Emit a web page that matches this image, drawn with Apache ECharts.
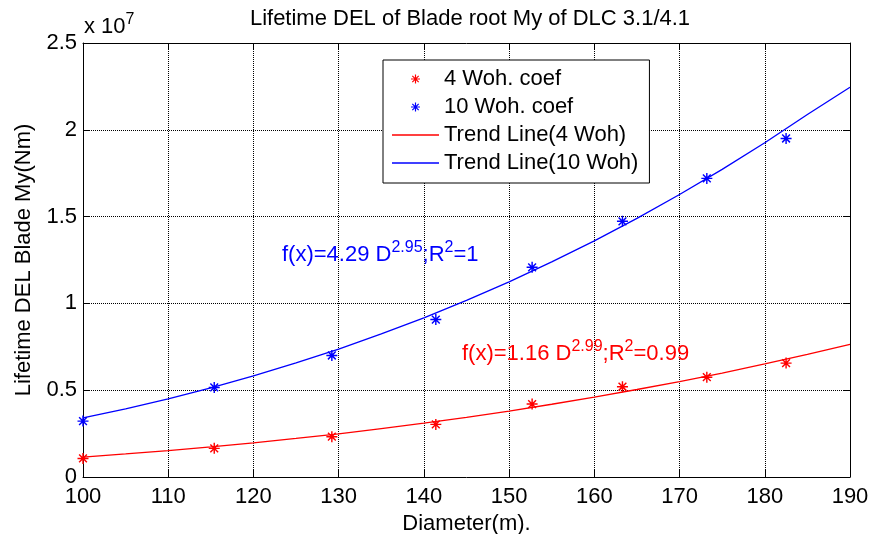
<!DOCTYPE html>
<html>
<head>
<meta charset="utf-8">
<script src="https://cdn.jsdelivr.net/npm/echarts@6/dist/echarts.min.js"></script>
<style>html,body{margin:0;padding:0;background:#fff}#c{width:888px;height:534px}</style>
</head>
<body>
<div id="c"></div>
<script>
// Data (values in units of 1e7 Nm)
var diameters = [100, 115.4, 129.2, 141.4, 152.7, 163.3, 173.2, 182.5];
var woh4 = [0.107, 0.165, 0.232, 0.303, 0.42, 0.52, 0.575, 0.656];
var woh10 = [0.322, 0.516, 0.70, 0.907, 1.208, 1.473, 1.72, 1.95];
var trendX = [100,105,110,115,120,125,130,135,140,145,150,155,160,165,170,175,180,185,190];
var trend4 = [0.115,0.133,0.152,0.174,0.197,0.222,0.249,0.279,0.310,0.344,0.380,0.419,0.460,0.504,0.550,0.599,0.651,0.706,0.764];
var trend10 = [0.340,0.393,0.450,0.513,0.582,0.657,0.737,0.824,0.917,1.017,1.124,1.239,1.360,1.490,1.627,1.772,1.925,2.088,2.245];
var seriesNames = ['4 Woh. coef', '10 Woh. coef', 'Trend Line(4 Woh)', 'Trend Line(10 Woh)'];

function pairs(xs, ys) { return xs.map(function (x, i) { return [x, ys[i]]; }); }

var FONT = '"Liberation Sans", Arial, sans-serif';
var ast = 'path://M4.35 0L5.65 0L5.65 10L4.35 10Z M0 4.35L10 4.35L10 5.65L0 5.65Z M1.0 1.92L1.92 1.0L9.0 8.08L8.08 9.0Z M8.08 1.0L9.0 1.92L1.92 9.0L1.0 8.08Z';
var lineIcon = 'path://M0 0L47 0L47 1.3L0 1.3Z';

var chart = echarts.init(document.getElementById('c'));
var axisCommon = {
  type: 'value',
  axisLine: { show: true, onZero: false, lineStyle: { color: '#000', width: 1 } },
  axisTick: { show: true, inside: true, length: 7, lineStyle: { color: '#000' } }
};
chart.setOption({
  animation: false,
  backgroundColor: '#fff',
  textStyle: { fontFamily: FONT },
  title: {
    text: 'Lifetime DEL of Blade root My of DLC 3.1/4.1',
    left: 465, top: 3, textAlign: 'center',
    textStyle: { fontFamily: FONT, fontSize: 22, fontWeight: 'normal', color: '#000' }
  },
  grid: { left: 83, right: 38, top: 43, bottom: 57, outerBoundsMode: 'none', containLabel: false },
  legend: {
    orient: 'vertical', left: 383, top: 60,
    padding: [8, 11, 9, 9], itemGap: 6, itemWidth: 47, itemHeight: 9,
    backgroundColor: '#fff', borderColor: '#000', borderWidth: 1,
    selectedMode: false,
    textStyle: { fontFamily: FONT, fontSize: 22, color: '#000', padding: [0, 0, 0, 0] },
    data: [
      { name: seriesNames[0], icon: ast },
      { name: seriesNames[1], icon: ast },
      { name: seriesNames[2], icon: lineIcon },
      { name: seriesNames[3], icon: lineIcon }
    ]
  },
  xAxis: [
    Object.assign({}, axisCommon, {
      position: 'bottom', min: 100, max: 190, interval: 10,
      name: 'Diameter(m).', nameLocation: 'middle', nameGap: 33,
      nameTextStyle: { fontFamily: FONT, fontSize: 22, color: '#000' },
      axisLabel: { fontFamily: FONT, fontSize: 22, color: '#000', margin: 9 },
      splitLine: { show: true, lineStyle: { color: '#000', type: [1, 1], width: 1 } }
    }),
    Object.assign({}, axisCommon, {
      position: 'top', min: 100, max: 190, interval: 10,
      axisLabel: { show: false }, splitLine: { show: false }
    })
  ],
  yAxis: [
    Object.assign({}, axisCommon, {
      position: 'left', min: 0, max: 2.5, interval: 0.5,
      name: 'Lifetime DEL Blade My(Nm)', nameLocation: 'middle', nameGap: 48,
      nameTextStyle: { fontFamily: FONT, fontSize: 22, color: '#000' },
      axisLabel: { fontFamily: FONT, fontSize: 22, color: '#000', margin: 6 },
      splitLine: { show: true, lineStyle: { color: '#000', type: [1, 1], width: 1 } }
    }),
    Object.assign({}, axisCommon, {
      position: 'right', min: 0, max: 2.5, interval: 0.5,
      axisLabel: { show: false }, splitLine: { show: false }
    })
  ],
  series: [
    { name: seriesNames[2], type: 'line', data: pairs(trendX, trend4), showSymbol: false, symbol: 'none',
      lineStyle: { color: '#ff0000', width: 1.3 }, itemStyle: { color: '#ff0000' }, z: 2 },
    { name: seriesNames[3], type: 'line', data: pairs(trendX, trend10), showSymbol: false, symbol: 'none',
      lineStyle: { color: '#0000ff', width: 1.3 }, itemStyle: { color: '#0000ff' }, z: 2 },
    { name: seriesNames[0], type: 'scatter', data: pairs(diameters, woh4), symbol: ast, symbolSize: 11,
      itemStyle: { color: '#ff0000', opacity: 1 }, z: 3 },
    { name: seriesNames[1], type: 'scatter', data: pairs(diameters, woh10), symbol: ast, symbolSize: 11,
      itemStyle: { color: '#0000ff', opacity: 1 }, z: 3 }
  ],
  graphic: [
    { type: 'text', left: 84, top: 12, z: 10,
      style: { text: 'x 10{s|7}', fill: '#000', font: '22px ' + FONT, lineHeight: 30,
        rich: { s: { fontSize: 16, fontFamily: FONT, lineHeight: 15, verticalAlign: 'top', fill: '#000' } } } },
    { type: 'text', left: 282, top: 240, z: 10,
      style: { text: 'f(x)=4.29 D{s|2.95};R{s|2}=1', fill: '#0000ff', font: '22px ' + FONT, lineHeight: 30,
        rich: { s: { fontSize: 16, fontFamily: FONT, lineHeight: 15, verticalAlign: 'top', fill: '#0000ff' } } } },
    { type: 'text', left: 462, top: 339, z: 10,
      style: { text: 'f(x)=1.16 D{s|2.99};R{s|2}=0.99', fill: '#ff0000', font: '22px ' + FONT, lineHeight: 30,
        rich: { s: { fontSize: 16, fontFamily: FONT, lineHeight: 15, verticalAlign: 'top', fill: '#ff0000' } } } }
  ]
});
</script>
</body>
</html>
